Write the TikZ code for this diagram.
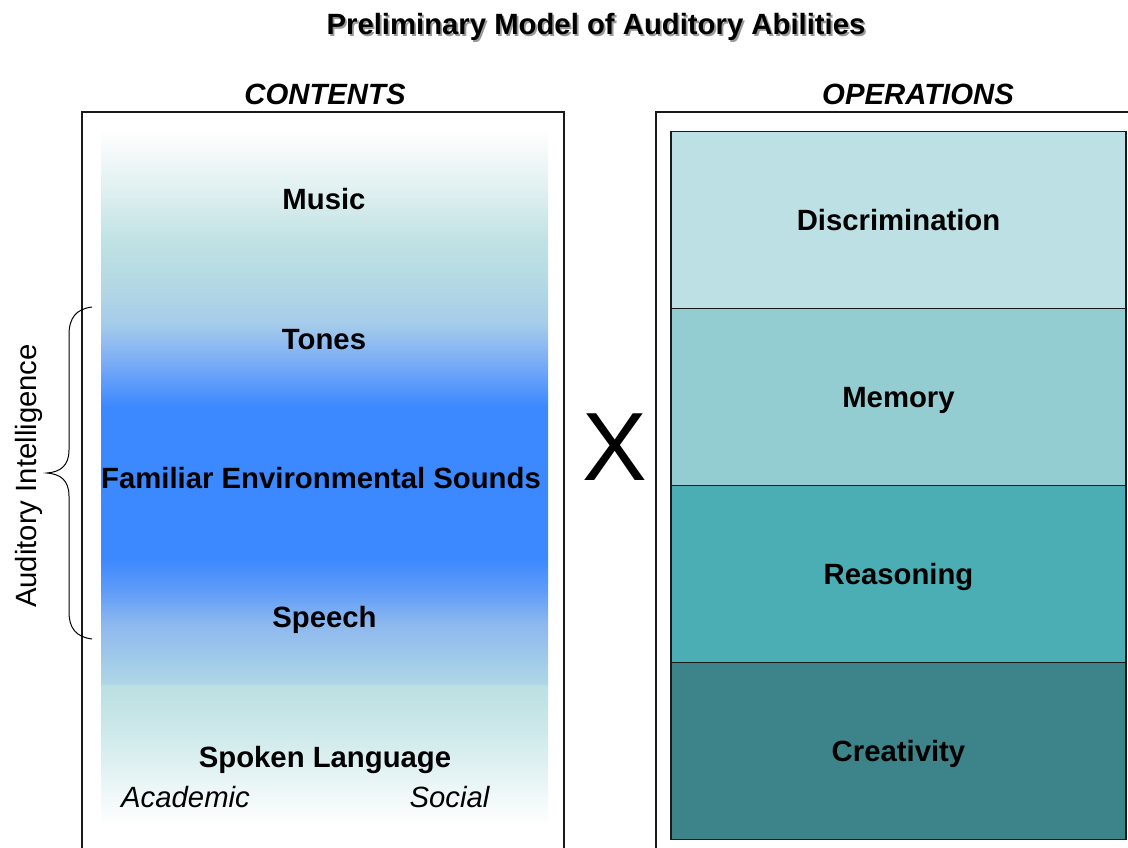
\documentclass[tikz,border=0pt]{standalone}
\usepackage{fontspec}
\setmainfont{Liberation Sans}
\definecolor{gA}{HTML}{B0D8E6}
\definecolor{gB}{HTML}{8DB8EE}
\definecolor{gC}{HTML}{5F9CF8}
\definecolor{gBlue}{HTML}{3B88FF}
\definecolor{gD}{HTML}{80B0F5}
\definecolor{gE}{HTML}{A5CCEA}
\definecolor{gF}{HTML}{B5DAE4}
\definecolor{gG}{HTML}{C0E2E4}
\definecolor{gH}{HTML}{E0F0F0}
\definecolor{sA}{HTML}{EEF7F8}
\definecolor{sB}{HTML}{D2EBEC}
\definecolor{sC}{HTML}{C0E2E4}
\definecolor{sD}{HTML}{BBE0E3}
\definecolor{cDisc}{HTML}{BCE0E3}
\definecolor{cMem}{HTML}{93CDD1}
\definecolor{cReas}{HTML}{4BAEB5}
\definecolor{cCrea}{HTML}{3C8489}
\definecolor{frameline}{HTML}{1A1A1A}
\pgfdeclareverticalshading{contshade}{100bp}{color(0bp)=(gA); color(25bp)=(gA); color(30.6bp)=(gB); color(33.55bp)=(gC); color(36.55bp)=(gBlue); color(50.05bp)=(gBlue); color(54.55bp)=(gD); color(57.6bp)=(gE); color(61.5bp)=(gF); color(65.1bp)=(gG); color(69.6bp)=(gH); color(75bp)=(white); color(100bp)=(white)}
\pgfdeclareverticalshading{spokshade}{100bp}{color(0bp)=(white); color(25bp)=(white); color(37.5bp)=(sA); color(55.4bp)=(sB); color(69.6bp)=(sC); color(75bp)=(sD); color(100bp)=(sD)}
\tikzset{
  lbl/.style={font=\fontsize{29.3}{34}\selectfont\bfseries, inner sep=0pt, anchor=base},
  ital/.style={font=\fontsize{29.3}{34}\selectfont\itshape, inner sep=0pt, anchor=base},
  head/.style={font=\fontsize{29.3}{34}\selectfont\bfseries\itshape, inner sep=0pt, anchor=base},
  frm/.style={draw=frameline, line width=1.3pt},
  opbox/.style={draw=frameline, line width=1.2pt, minimum width=455pt, minimum height=177pt, inner sep=0pt,
     font=\fontsize{29.3}{34}\selectfont\bfseries, text height=20.8pt, text depth=0pt},
  bracestyle/.style={draw=black, line width=1pt}
}
\begin{document}
\begin{tikzpicture}[x=1pt,y=-1pt]
\useasboundingbox (0,0) rectangle (1128,848);
\clip (0,0) rectangle (1128,848);
\fill[white] (0,0) rectangle (1128,848);
% title with shadow
\node[lbl, text=black!40] (titleshadow) at (597.8,36.8) {Preliminary Model of Auditory Abilities};
\node[lbl] (title) at (596,35) {Preliminary Model of Auditory Abilities};
% headings
\node[head] (contents) at (325,105) {CONTENTS};
\node[head] (operations) at (918,105) {OPERATIONS};
% frames
\draw[frm] (82,860) -- (82,112) -- (564,112) -- (564,860);
\draw[frm] (656,860) -- (656,112) -- (1140,112);
% gradients
\shade[shading=contshade] (101,130) rectangle (548,686);
\shade[shading=spokshade] (101,685) rectangle (548,826);
% contents labels
\node[lbl] (music) at (324,210) {Music};
\node[lbl] (tones) at (324,349) {Tones};
\node[lbl] (fes) at (321,488) {Familiar Environmental Sounds};
\node[lbl] (speech) at (324.5,627) {Speech};
\node[lbl] (spoken) at (325,767) {Spoken Language};
\node[ital, anchor=base west] (academic) at (121,807) {Academic};
\node[ital] (social) at (449.5,807) {Social};
% operations
\node[opbox, fill=cDisc] (disc) at (898.5,220) {Discrimination};
\node[opbox, fill=cMem] (mem) at (898.5,397) {Memory};
\node[opbox, fill=cReas] (reas) at (898.5,574) {Reasoning};
\node[opbox, fill=cCrea] (crea) at (898.5,751) {Creativity};
% X
\node[font=\fontsize{97}{110}\selectfont, inner sep=0pt, anchor=base] (times) at (615,480) {X};
% brace
\draw[bracestyle] (92,307) .. controls (76,309) and (69,318) .. (69,335) -- (69,450)
   .. controls (69,466) and (60,472) .. (47,473) .. controls (60,474) and (69,480) .. (69,496)
   -- (69,612) .. controls (69,628) and (76,637) .. (92,639);
\node[font=\fontsize{29.3}{34}\selectfont, inner sep=0pt, anchor=base, rotate=90] (audint) at (36.5,476) {Auditory Intelligence};
\end{tikzpicture}
\end{document}
